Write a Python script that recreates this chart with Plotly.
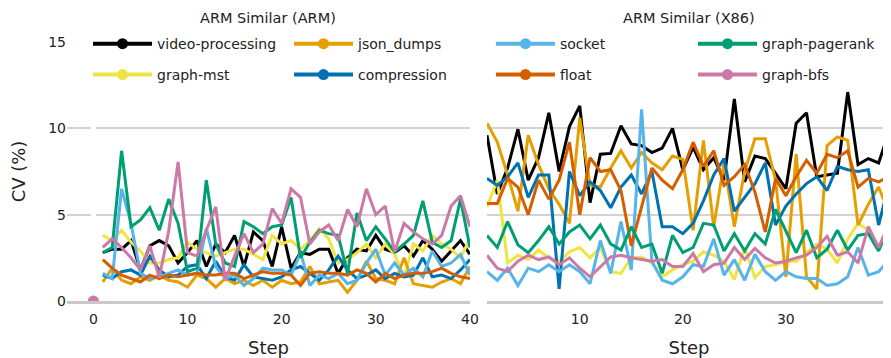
import plotly.graph_objects as go

steps = list(range(1, 41))
names = ["video-processing", "json_dumps", "socket", "graph-pagerank",
         "graph-mst", "compression", "float", "graph-bfs"]
colors = ["#000000", "#E69F00", "#56B4E9", "#009E73",
          "#F0E442", "#0072B2", "#D55E00", "#CC79A7"]

# ARM Similar (ARM)
arm_video = [2.8, 3.0, 3.0, 3.5, 1.8, 3.2, 3.5, 3.2, 2.2, 2.8, 3.5, 2.0, 3.3, 2.8, 3.8, 2.0, 4.0, 3.5, 2.0, 4.3,
             1.9, 2.8, 2.7, 3.0, 3.0, 1.6, 2.5, 3.0, 2.9, 3.8, 3.0, 2.8, 3.2, 2.6, 3.5, 3.0, 2.3, 2.9, 3.5, 2.7]
arm_json = [1.1, 1.9, 1.2, 1.0, 1.4, 1.2, 1.5, 1.2, 1.1, 0.8, 1.5, 1.3, 0.8, 1.3, 1.0, 1.2, 0.9, 1.2, 0.8, 1.2,
            1.0, 1.1, 2.0, 1.0, 1.1, 1.2, 0.5, 1.2, 2.3, 1.3, 1.2, 1.0, 2.5, 1.0, 0.9, 0.8, 1.1, 1.3, 1.0, 2.0]
arm_socket = [1.6, 1.3, 6.5, 4.5, 1.6, 1.3, 1.4, 1.6, 1.8, 1.5, 1.6, 4.2, 2.0, 1.3, 1.5, 0.9, 1.3, 1.9, 1.8, 1.8,
              1.5, 2.8, 0.9, 1.5, 1.3, 1.6, 1.0, 1.2, 2.2, 3.0, 1.5, 2.2, 1.5, 1.9, 1.4, 2.9, 2.0, 2.2, 2.7, 1.5]
arm_pagerank = [2.8, 3.1, 8.7, 4.3, 4.7, 5.4, 4.1, 5.9, 4.5, 1.7, 1.9, 7.0, 3.3, 2.2, 2.0, 4.6, 4.3, 3.9, 4.3, 4.4,
                6.0, 2.5, 3.4, 4.1, 3.9, 3.8, 1.6, 5.1, 3.5, 4.3, 3.6, 2.85, 3.3, 3.8, 5.8, 3.4, 3.1, 3.5, 5.9, 3.1]
arm_mst = [3.8, 3.5, 4.1, 3.4, 2.9, 2.2, 2.2, 2.4, 2.5, 3.4, 3.0, 2.8, 2.6, 2.8, 3.0, 3.0, 2.7, 2.4, 3.8, 3.3,
           3.5, 3.0, 3.5, 4.2, 3.6, 2.2, 2.4, 2.8, 3.3, 2.5, 3.3, 2.7, 1.4, 3.3, 2.9, 3.8, 3.3, 3.0, 2.5, 3.6]
arm_compression = [1.5, 1.3, 1.7, 1.8, 1.5, 2.6, 1.8, 1.4, 1.5, 2.0, 2.1, 1.3, 2.3, 1.4, 1.2, 2.1, 1.4, 1.3, 1.2, 1.4,
                   1.8, 2.0, 1.6, 1.2, 1.8, 2.6, 1.8, 1.3, 1.5, 1.8, 1.3, 1.6, 1.4, 1.5, 2.5, 1.4, 1.5, 1.3, 1.8, 2.4]
arm_float = [2.4, 1.9, 1.5, 1.3, 1.1, 1.5, 1.3, 1.5, 1.4, 1.5, 1.6, 1.5, 1.5, 1.6, 1.6, 1.3, 1.5, 1.7, 1.6, 1.6,
             1.5, 0.9, 1.6, 1.7, 1.6, 1.6, 1.5, 1.8, 1.6, 1.1, 1.6, 1.3, 1.5, 1.6, 1.6, 1.7, 1.9, 1.6, 1.4, 1.3]
arm_bfs = [3.1, 3.6, 3.1, 2.5, 1.8, 3.2, 1.35, 4.05, 8.05, 2.8, 2.6, 4.1, 5.45, 1.2, 2.6, 3.9, 2.8, 3.3, 5.35, 4.5,
           6.5, 6.0, 3.3, 4.0, 4.4, 3.5, 5.3, 4.3, 6.5, 5.0, 5.5, 2.85, 4.5, 4.0, 3.6, 3.3, 3.8, 5.5, 6.1, 4.3]
arm_start_step = [0]
arm_start_value = [0]

# ARM Similar (X86)
x86_video = [9.6, 6.2, 7.7, 9.95, 7.0, 8.3, 10.9, 7.5, 10.1, 11.3, 5.7, 8.5, 8.55, 10.15, 9.1, 9.0, 8.6, 8.85, 10.0, 7.6,
             8.9, 7.6, 8.3, 7.0, 11.7, 6.9, 8.4, 8.25, 7.4, 6.5, 10.3, 10.9, 7.2, 7.3, 7.4, 12.1, 7.9, 8.25, 8.0, 9.8]
x86_json = [10.3, 9.2, 7.3, 5.2, 9.6, 7.9, 6.5, 5.6, 4.5, 10.6, 6.7, 6.6, 7.7, 8.7, 7.7, 8.6, 8.0, 7.6, 8.4, 8.2,
            4.1, 9.3, 4.3, 8.0, 4.3, 7.5, 9.4, 9.4, 7.0, 1.4, 8.5, 1.4, 0.7, 9.0, 9.5, 9.3, 4.4, 5.6, 6.6, 5.1]
x86_socket = [1.7, 1.2, 1.9, 0.9, 1.9, 1.7, 2.1, 1.7, 2.1, 1.7, 1.0, 3.5, 1.6, 4.6, 1.8, 11.1, 2.3, 1.2, 1.0, 1.4,
              2.1, 2.0, 3.6, 1.5, 2.4, 1.2, 2.7, 1.7, 1.2, 1.7, 1.4, 1.3, 1.3, 0.9, 1.0, 1.4, 3.1, 1.5, 1.7, 2.4]
x86_pagerank = [3.8, 3.1, 4.6, 3.25, 2.8, 3.5, 4.3, 3.3, 4.0, 4.4, 3.6, 4.4, 3.3, 2.95, 4.3, 3.1, 3.3, 1.6, 3.8, 2.8,
                3.1, 4.5, 4.4, 2.9, 3.9, 2.9, 3.9, 3.3, 5.3, 4.0, 2.8, 4.1, 2.5, 3.0, 4.1, 2.95, 3.8, 3.9, 2.9, 4.3]
x86_mst = [5.45, 7.0, 2.2, 2.65, 2.4, 2.95, 2.5, 2.3, 2.85, 3.1, 2.5, 3.1, 1.7, 1.6, 2.5, 2.55, 2.2, 1.4, 1.8, 2.1,
           2.3, 2.85, 2.65, 2.3, 1.25, 3.1, 1.35, 2.0, 2.1, 2.3, 2.3, 2.8, 3.3, 3.0, 2.2, 3.6, 4.5, 4.1, 3.0, 4.4]
x86_compression = [7.1, 6.7, 7.2, 8.0, 6.0, 7.3, 7.3, 0.7, 7.5, 6.1, 6.9, 6.4, 5.4, 6.6, 7.3, 6.2, 7.5, 4.3, 4.3, 3.9,
                   4.5, 5.8, 7.3, 8.25, 5.2, 6.0, 6.8, 8.0, 4.4, 5.5, 6.2, 6.8, 7.2, 6.4, 7.8, 7.6, 7.5, 7.6, 4.4, 6.8]
x86_float = [5.65, 5.65, 7.1, 6.6, 5.0, 7.0, 5.9, 7.0, 9.2, 5.0, 8.3, 7.5, 7.6, 6.4, 3.2, 5.4, 7.7, 7.0, 6.5, 7.6,
             9.2, 7.8, 8.7, 6.7, 7.2, 7.9, 6.3, 4.0, 7.1, 6.1, 7.2, 8.15, 7.4, 8.5, 8.3, 8.7, 6.6, 7.1, 6.9, 7.2]
x86_bfs = [2.65, 1.9, 1.7, 2.3, 2.65, 2.4, 2.55, 2.1, 2.5, 1.9, 1.4, 2.0, 2.55, 2.65, 2.5, 2.4, 2.3, 2.4, 2.0, 2.0,
           2.75, 1.7, 2.1, 2.2, 3.1, 2.4, 3.05, 2.5, 2.2, 2.3, 2.5, 2.65, 3.1, 3.75, 2.65, 2.85, 2.2, 4.3, 3.1, 4.5]

panel_titles = ["ARM Similar (ARM)", "ARM Similar (X86)"]
x_title = "Step"
y_title = "CV (%)"
left_ticks = [0, 10, 20, 30, 40]
right_ticks = [10, 20, 30]
y_ticks = [0, 5, 10, 15]

arm = [arm_video, arm_json, arm_socket, arm_pagerank, arm_mst, arm_compression, arm_float, arm_bfs]
x86 = [x86_video, x86_json, x86_socket, x86_pagerank, x86_mst, x86_compression, x86_float, x86_bfs]
draw_order = [0, 4, 1, 5, 2, 6, 3, 7]

fig = go.Figure()
for i in draw_order:
    fig.add_trace(go.Scatter(x=steps, y=arm[i], mode="lines", line=dict(color=colors[i], width=3),
                             xaxis="x", yaxis="y", showlegend=False, name=names[i]))
for i in draw_order:
    fig.add_trace(go.Scatter(x=steps, y=x86[i], mode="lines", line=dict(color=colors[i], width=3),
                             xaxis="x2", yaxis="y2", showlegend=False, name=names[i]))
fig.add_trace(go.Scatter(x=arm_start_step, y=arm_start_value, mode="markers",
                         marker=dict(color=colors[7], size=11), xaxis="x", yaxis="y", showlegend=False))

# one single-entry legend per item: 4 columns x 2 rows
legend_x = [0.0255, 0.2694, 0.5145, 0.7597]
legend_y = [0.992, 0.8726]
legend_layout = {}
for i in range(8):
    key = "legend" if i == 0 else "legend%d" % (i + 1)
    fig.add_trace(go.Scatter(x=[None], y=[None], mode="lines+markers", name=names[i],
                             line=dict(color=colors[i], width=4), marker=dict(color=colors[i], size=11),
                             legend=key, xaxis="x", yaxis="y"))
    legend_layout[key] = dict(orientation="h", xanchor="left", yanchor="middle",
                              x=legend_x[i % 4], y=legend_y[i // 4], itemwidth=59,
                              bgcolor="rgba(0,0,0,0)", font=dict(size=14, color="#222"))

axis_common = dict(showgrid=False, zeroline=True, zerolinecolor="white", zerolinewidth=5,
                   showline=True, linecolor="#c9c9c9", linewidth=3, ticks="", automargin=False,
                   tickfont=dict(size=14, color="#222"), ticklabelstandoff=3,
                   title=dict(text=x_title, font=dict(size=18, color="#222"), standoff=16))

# the page places the figure 8px in from the top-left corner; margins compensate
fig.update_layout(
    width=891, height=358,
    margin=dict(l=59, r=8, t=34, b=65, autoexpand=False),
    paper_bgcolor="white", plot_bgcolor="white",
    font=dict(family="DejaVu Sans", size=14, color="#222"),
    xaxis=dict(domain=[0, 0.489], range=[-2.8, 40], tickvals=left_ticks, anchor="y", **axis_common),
    xaxis2=dict(domain=[0.5097, 1], range=[1, 40.2], tickvals=right_ticks, anchor="y2", **axis_common),
    yaxis=dict(range=[0, 15], tickvals=y_ticks, showgrid=True, gridcolor="#d2d2d2", gridwidth=2,
               zeroline=False, ticks="", automargin=False, tickfont=dict(size=14, color="#222"),
               title=dict(text=y_title, font=dict(size=18, color="#222"), standoff=20), anchor="x"),
    yaxis2=dict(range=[0, 15], tickvals=y_ticks, showgrid=True, gridcolor="#d2d2d2", gridwidth=2,
                zeroline=False, showticklabels=False, ticks="", automargin=False, anchor="x2", matches="y"),
    annotations=[
        dict(text=panel_titles[0], x=0.2445, y=1, xref="paper", yref="paper", xanchor="center",
             yanchor="middle", yshift=24, showarrow=False, font=dict(size=14.5, color="#222")),
        dict(text=panel_titles[1], x=0.755, y=1, xref="paper", yref="paper", xanchor="center",
             yanchor="middle", yshift=24, showarrow=False, font=dict(size=14.5, color="#222")),
    ],
    **legend_layout,
)

fig.write_html("out.html")
